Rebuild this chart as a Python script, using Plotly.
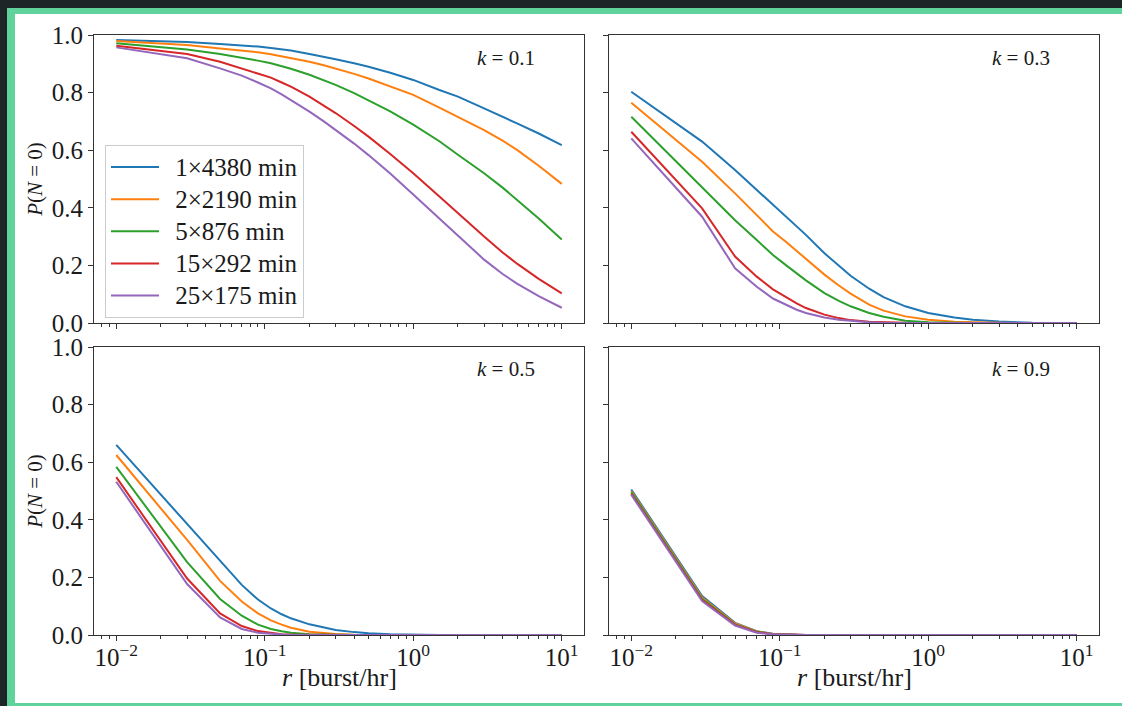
import plotly.graph_objects as go
from plotly.subplots import make_subplots

# ---------------- data ----------------
r_values = [0.01, 0.03, 0.05, 0.07, 0.09, 0.11, 0.13, 0.15, 0.2, 0.25, 0.3, 0.4, 0.5,
            0.7, 1, 1.5, 2, 3, 4, 5, 7, 10]

series_labels = ["1×4380 min", "2×2190 min", "5×876 min", "15×292 min", "25×175 min"]
series_colors = ["#1f77b4", "#ff7f0e", "#2ca02c", "#d62728", "#9467bd"]

k_labels = ["<i>k</i> = 0.1", "<i>k</i> = 0.3", "<i>k</i> = 0.5", "<i>k</i> = 0.9"]
x_title = "<i>r</i> [burst/hr]"
y_title = "<i>P</i>(<i>N</i> = 0)"

p_k01 = [
    [0.983, 0.976, 0.969, 0.965, 0.960, 0.955, 0.950, 0.946, 0.934, 0.925, 0.916, 0.902, 0.890,
     0.869, 0.844, 0.809, 0.786, 0.745, 0.717, 0.693, 0.658, 0.618],
    [0.979, 0.965, 0.953, 0.947, 0.940, 0.933, 0.926, 0.920, 0.907, 0.895, 0.884, 0.865, 0.849,
     0.822, 0.792, 0.748, 0.716, 0.670, 0.633, 0.601, 0.546, 0.483],
    [0.971, 0.950, 0.934, 0.922, 0.911, 0.902, 0.892, 0.883, 0.862, 0.844, 0.827, 0.798, 0.774,
     0.735, 0.689, 0.631, 0.584, 0.520, 0.470, 0.428, 0.363, 0.290],
    [0.963, 0.934, 0.907, 0.884, 0.868, 0.852, 0.835, 0.821, 0.786, 0.756, 0.729, 0.684, 0.647,
     0.587, 0.520, 0.439, 0.381, 0.300, 0.245, 0.206, 0.153, 0.103],
    [0.957, 0.919, 0.884, 0.859, 0.835, 0.815, 0.794, 0.775, 0.734, 0.700, 0.671, 0.623, 0.583,
     0.519, 0.446, 0.362, 0.301, 0.220, 0.170, 0.137, 0.093, 0.053],
]
p_k03 = [
    [0.803, 0.630, 0.531, 0.462, 0.410, 0.370, 0.336, 0.306, 0.242, 0.198, 0.164, 0.119, 0.090,
     0.058, 0.035, 0.019, 0.011, 0.005, 0.002, 0.001, 0.0003, 0.0],
    [0.765, 0.560, 0.450, 0.375, 0.318, 0.282, 0.250, 0.222, 0.168, 0.130, 0.102, 0.064, 0.043,
     0.023, 0.011, 0.004, 0.002, 0.0005, 0.0001, 0.0, 0.0, 0.0],
    [0.716, 0.473, 0.357, 0.288, 0.236, 0.201, 0.172, 0.148, 0.104, 0.077, 0.058, 0.035, 0.022,
     0.008, 0.003, 0.0008, 0.0002, 0.0, 0.0, 0.0, 0.0, 0.0],
    [0.664, 0.398, 0.231, 0.161, 0.117, 0.090, 0.068, 0.052, 0.029, 0.017, 0.010, 0.004, 0.0018,
     0.0005, 0.0001, 0.0, 0.0, 0.0, 0.0, 0.0, 0.0, 0.0],
    [0.641, 0.369, 0.190, 0.126, 0.085, 0.063, 0.046, 0.035, 0.019, 0.011, 0.007, 0.0025, 0.001,
     0.0002, 0.0, 0.0, 0.0, 0.0, 0.0, 0.0, 0.0, 0.0],
]
p_k05 = [
    [0.660, 0.387, 0.260, 0.174, 0.123, 0.092, 0.072, 0.058, 0.037, 0.025, 0.017, 0.010, 0.006,
     0.003, 0.001, 0.0003, 0.0, 0.0, 0.0, 0.0, 0.0, 0.0],
    [0.625, 0.330, 0.188, 0.116, 0.075, 0.051, 0.036, 0.025, 0.011, 0.006, 0.0035, 0.0013, 0.0005,
     0.0001, 0.0, 0.0, 0.0, 0.0, 0.0, 0.0, 0.0, 0.0],
    [0.584, 0.253, 0.125, 0.067, 0.036, 0.021, 0.013, 0.008, 0.003, 0.0012, 0.0005, 0.0001, 0.0,
     0.0, 0.0, 0.0, 0.0, 0.0, 0.0, 0.0, 0.0, 0.0],
    [0.548, 0.196, 0.075, 0.031, 0.0135, 0.0065, 0.003, 0.0015, 0.0003, 0.0, 0.0, 0.0, 0.0,
     0.0, 0.0, 0.0, 0.0, 0.0, 0.0, 0.0, 0.0, 0.0],
    [0.532, 0.177, 0.061, 0.021, 0.008, 0.0035, 0.0015, 0.0007, 0.0001, 0.0, 0.0, 0.0, 0.0,
     0.0, 0.0, 0.0, 0.0, 0.0, 0.0, 0.0, 0.0, 0.0],
]
p_k09 = [
    [0.505, 0.135, 0.042, 0.013, 0.004, 0.0015, 0.0008, 0.0003, 0.0001, 0.0, 0.0, 0.0, 0.0,
     0.0, 0.0, 0.0, 0.0, 0.0, 0.0, 0.0, 0.0, 0.0],
    [0.500, 0.130, 0.040, 0.012, 0.0035, 0.0012, 0.0006, 0.0002, 0.0, 0.0, 0.0, 0.0, 0.0,
     0.0, 0.0, 0.0, 0.0, 0.0, 0.0, 0.0, 0.0, 0.0],
    [0.496, 0.126, 0.037, 0.011, 0.003, 0.001, 0.0005, 0.0002, 0.0, 0.0, 0.0, 0.0, 0.0,
     0.0, 0.0, 0.0, 0.0, 0.0, 0.0, 0.0, 0.0, 0.0],
    [0.490, 0.121, 0.035, 0.010, 0.0028, 0.0009, 0.0004, 0.0001, 0.0, 0.0, 0.0, 0.0, 0.0,
     0.0, 0.0, 0.0, 0.0, 0.0, 0.0, 0.0, 0.0, 0.0],
    [0.487, 0.118, 0.033, 0.008, 0.0025, 0.0008, 0.0003, 0.0001, 0.0, 0.0, 0.0, 0.0, 0.0,
     0.0, 0.0, 0.0, 0.0, 0.0, 0.0, 0.0, 0.0, 0.0],
]
panels = [p_k01, p_k03, p_k05, p_k09]

x_tickvals = [0.01, 0.1, 1, 10]
x_ticktext = ["10<sup>−2</sup>", "10<sup>−1</sup>", "10<sup>0</sup>", "10<sup>1</sup>"]
y_tickvals = [0.0, 0.2, 0.4, 0.6, 0.8, 1.0]
y_ticktext = ["0.0", "0.2", "0.4", "0.6", "0.8", "1.0"]

# ---------------- figure ----------------
W, H = 1122, 706
FONT = "Liberation Serif"
AX = "#333333"
TXT = "#1a1a1a"

fig = make_subplots(rows=2, cols=2)

positions = [(1, 1), (1, 2), (2, 1), (2, 2)]
for idx, (data, (row, col)) in enumerate(zip(panels, positions)):
    for vals, name, color in zip(data, series_labels, series_colors):
        fig.add_trace(
            go.Scatter(
                x=r_values, y=vals, mode="lines",
                name="\u2002<span style='font-size:25px'>" + name + "</span>",
                line=dict(color=color, width=2),
                showlegend=(idx == 0), legendgroup=name,
            ),
            row=row, col=col,
        )

def px_x(a, b):
    return [a / W, b / W]

def px_y(top, bottom):
    return [1 - bottom / H, 1 - top / H]

x_domains = {1: px_x(94, 584), 2: px_x(609, 1099)}
y_domains = {1: px_y(35, 323), 2: px_y(347, 635)}

minor_vals = [m * 10 ** e for e in (-3, -2, -1, 0, 1) for m in range(2, 10)]

for (row, col) in positions:
    fig.update_xaxes(
        type="log", range=[-2.15, 1.15], domain=x_domains[col], automargin=False,
        tickmode="array", tickvals=x_tickvals, ticktext=x_ticktext,
        showticklabels=(row == 2), ticklabelstandoff=-5,
        ticks="outside", ticklen=5, tickwidth=1, tickcolor=AX,
        minor=dict(ticks="outside", ticklen=3, tickwidth=1, tickcolor=AX,
                   tickmode="array", tickvals=minor_vals, showgrid=False),
        showline=True, linecolor=AX, linewidth=1, mirror=True,
        showgrid=False, zeroline=False,
        tickfont=dict(family=FONT, size=25, color=TXT),
        row=row, col=col,
    )
    fig.update_yaxes(
        range=[0, 1], domain=y_domains[row], automargin=False,
        tickmode="array", tickvals=y_tickvals, ticktext=y_ticktext,
        showticklabels=(col == 1),
        ticks="outside", ticklen=5, tickwidth=1, tickcolor=AX,
        showline=True, linecolor=AX, linewidth=1, mirror=True,
        showgrid=False, zeroline=False,
        tickfont=dict(family=FONT, size=25, color=TXT),
        row=row, col=col,
    )
    if col == 1:
        fig.update_yaxes(
            title=dict(text=y_title, font=dict(family=FONT, size=21, color=TXT)),
            row=row, col=col,
        )

# x-axis titles (bottom row)
for xc in (339, 854):
    fig.add_annotation(
        text=x_title, xref="paper", yref="paper", x=xc / W, y=1 - 677 / H,
        xanchor="center", yanchor="middle", showarrow=False,
        font=dict(family=FONT, size=26, color=TXT),
    )

# k labels
k_pos = [(537, 58), (1052, 58), (537, 369), (1052, 369)]
for text, (xp, yp) in zip(k_labels, k_pos):
    fig.add_annotation(
        text=text, xref="paper", yref="paper", x=xp / W, y=1 - yp / H,
        xanchor="right", yanchor="middle", showarrow=False,
        font=dict(family=FONT, size=21, color=TXT),
    )

# outer frame (dark page, green border, white card)
fig.add_shape(type="rect", xref="paper", yref="paper", layer="below",
              x0=7 / W, x1=1.02, y0=-0.02, y1=1 - 8 / H,
              fillcolor="#5fd39b", line=dict(width=0))
fig.add_shape(type="rect", xref="paper", yref="paper", layer="below",
              x0=15 / W, x1=1.02, y0=3 / H, y1=1 - 14 / H,
              fillcolor="#ffffff", line=dict(width=0))

fig.update_layout(
    template="none",
    width=W, height=H,
    margin=dict(l=0, r=0, t=0, b=0, pad=0, autoexpand=False),
    paper_bgcolor="#1e2527",
    plot_bgcolor="rgba(0,0,0,0)",
    font=dict(family=FONT, color=TXT),
    legend=dict(
        x=105 / W, y=1 - 145 / H, xanchor="left", yanchor="top",
        bgcolor="rgba(255,255,255,0.9)", bordercolor="#cccccc", borderwidth=1,
        font=dict(family=FONT, size=22.4, color=TXT),
        itemwidth=48, tracegroupgap=0,
    ),
)

fig.write_html("out.html", config={"displayModeBar": False},
               post_script="document.body.style.margin='0';")
